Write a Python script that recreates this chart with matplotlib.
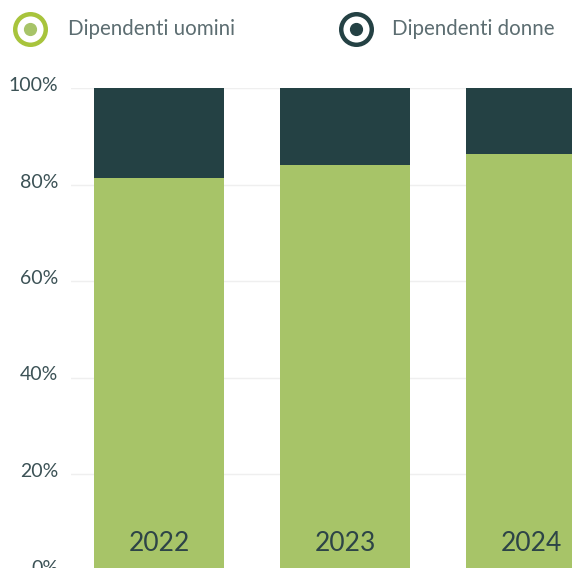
import matplotlib.pyplot as plt
import matplotlib.transforms as mtransforms
from matplotlib.lines import Line2D
from matplotlib.ticker import FuncFormatter

# Share of employees by gender (%)
years = ["2022", "2023", "2024"]
uomini = [81.4, 84.0, 86.3]
donne = [100 - v for v in uomini]
series_names = ["Dipendenti uomini", "Dipendenti donne"]

GREEN = "#a7c468"
GREEN_RING = "#a8c43c"
DARK = "#244144"
TEXT = "#3c5256"

plt.rcParams['font.family'] = ['Lato', 'DejaVu Sans']

fig = plt.figure(figsize=(5.72, 5.68), dpi=100)
W, H = 572, 568
# axes from 100% line (y=88px) down to 0% just below figure bottom
ax = fig.add_axes([71 / W, -2.5 / H, 1 - 71 / W, (570.5 - 88) / H])

x = list(range(len(years)))
ax.bar(x, uomini, width=0.7, color=GREEN, zorder=2)
ax.bar(x, donne, width=0.7, bottom=uomini, color=DARK, zorder=2)

for xi, yr in zip(x, years):
    ax.text(xi, 5.5, yr, ha="center", va="center", fontsize=19, color="#2d4447", zorder=3)

ax.set_xlim(-0.473, 2.22)
ax.set_ylim(0, 100)
ax.set_yticks([0, 20, 40, 60, 80, 100])
ax.yaxis.set_major_formatter(FuncFormatter(lambda v, p: f"{v:.0f}%"))
ax.tick_params(axis="y", length=0, pad=9, labelsize=14, labelcolor=TEXT)
ax.set_xticks([])
ax.grid(axis="y", color="#efefef", linewidth=1, zorder=0)
for s in ax.spines.values():
    s.set_visible(False)

# nudge y tick labels up a little
shift = mtransforms.ScaledTranslation(0, 4 / 100, fig.dpi_scale_trans)
for lbl in ax.get_yticklabels():
    lbl.set_transform(lbl.get_transform() + shift)

# legend drawn by hand
legend_items = [(30 / W, GREEN_RING, GREEN, 68 / W), (356 / W, DARK, DARK, 392 / W)]
ly = 1 - 29 / H
for (cx, ring, dot, tx), name in zip(legend_items, series_names):
    fig.add_artist(Line2D([cx], [ly], marker="o", markersize=22, markerfacecolor="white",
                          markeredgecolor=ring, markeredgewidth=3.2, transform=fig.transFigure))
    fig.add_artist(Line2D([cx], [ly], marker="o", markersize=8.5, markerfacecolor=dot,
                          markeredgecolor=dot, transform=fig.transFigure))
    fig.text(tx, ly, name, ha="left", va="center", fontsize=14.8, color="#5c6d71")

fig.savefig("out.png", dpi=100)
